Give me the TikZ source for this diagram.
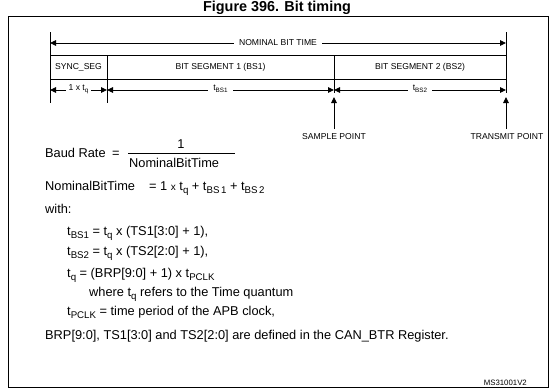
\documentclass[tikz,border=0pt]{standalone}
\usepackage{fontspec}
\setmainfont{Liberation Sans}
\usetikzlibrary{arrows.meta}
\newcommand{\lsb}[1]{\raisebox{-0.45ex}{\fontsize{6.3}{7}\selectfont #1}}
\newcommand{\msb}[1]{\raisebox{-0.45ex}{\fontsize{9.7}{10}\selectfont #1}}
\begin{document}
\begin{tikzpicture}[x=1pt,y=-1pt,
  thin line/.style={line width=0.9pt},
  dim/.style={line width=0.9pt,{Triangle[length=6pt,width=5.5pt]}-{Triangle[length=6pt,width=5.5pt]}},
  uparrow/.style={line width=0.9pt,-{Triangle[length=6pt,width=5.5pt]}},
  small/.style={font=\fontsize{8.6}{9}\selectfont, inner sep=0pt},
  gap/.style={small, fill=white, inner xsep=5pt, inner ysep=2pt},
  txt/.style={font=\fontsize{12.8}{14}\selectfont, inner sep=0pt, anchor=base west}]
\useasboundingbox (0,0) rectangle (555,391);
\node[font=\bfseries\fontsize{14.4}{16}\selectfont, inner sep=0pt] (title) at (277,8) {Figure 396. Bit timing};
\node[draw, line width=0.9pt, minimum width=540pt, minimum height=371pt, anchor=north west, inner sep=0pt] (frame) at (8,16) {};
% coordinates
\coordinate (lt) at (50,32);  \coordinate (lb) at (50,103);
\coordinate (rt) at (506,32); \coordinate (rb) at (506,93);
\coordinate (nl) at (50,43);  \coordinate (nr) at (506,43);
\coordinate (h1l) at (50,55); \coordinate (h1r) at (506,55);
\coordinate (h2l) at (50,79); \coordinate (h2r) at (506,79);
\coordinate (s1t) at (107,55); \coordinate (s1b) at (107,103);
\coordinate (s2t) at (334,55); \coordinate (s2b) at (334,93);
\coordinate (a0) at (50,90); \coordinate (a1) at (107,90); \coordinate (a2) at (334,90); \coordinate (a3) at (506,90);
\coordinate (spb) at (334,129); \coordinate (spt) at (334,97);
\coordinate (tpb) at (506,129); \coordinate (tpt) at (506,97);
% lines
\draw[thin line] (lt) -- (lb);
\draw[thin line] (rt) -- (rb);
\draw[thin line] (h1l) -- (h1r);
\draw[thin line] (h2l) -- (h2r);
\draw[thin line] (s1t) -- (s1b);
\draw[thin line] (s2t) -- (s2b);
\draw[dim] (nl) -- (nr) node[gap, midway] (nbt) {NOMINAL BIT TIME};
\node[small] (sync) at (78.5,67) {SYNC\_SEG};
\node[small] (bs1) at (220.5,67) {BIT SEGMENT 1 (BS1)};
\node[small] (bs2) at (420,67) {BIT SEGMENT 2 (BS2)};
\draw[dim] (a0) -- (a1) node[gap, midway, inner xsep=3pt, yshift=1pt] (tq) {1 x t\lsb{q}};
\draw[dim] (a1) -- (a2) node[gap, midway, yshift=1pt] (tbs1) {t\lsb{BS1}};
\draw[dim] (a2) -- (a3) node[gap, midway, yshift=1pt] (tbs2) {t\lsb{BS2}};
\draw[uparrow] (spb) -- (spt);
\draw[uparrow] (tpb) -- (tpt);
\node[small] (sp) at (334,137) {SAMPLE POINT};
\node[small] (tp) at (507,137) {TRANSMIT POINT};
% formulas
\node[txt] (br) at (45,157) {Baud Rate};
\node[txt] (breq) at (112,157) {=};
\coordinate (barl) at (128,153); \coordinate (barr) at (235,153);
\draw[line width=0.7pt] (barl) -- (barr);
\node[txt, anchor=base] (one) at (181,148) {1};
\node[txt] (den) at (129,167) {NominalBitTime};
\node[txt] (nbt2) at (45,190) {NominalBitTime};
\node[txt] (nbteq) at (149,190) {= 1 {\fontsize{10}{12}\selectfont x} t\msb{q} + t\msb{BS\,1} + t\msb{BS\,2}};
\node[txt] (with) at (45,213) {with:};
\node[txt] (l1) at (67,235) {t\msb{BS1} = t\msb{q} x (TS1[3:0] + 1),};
\node[txt] (l2) at (67,255) {t\msb{BS2} = t\msb{q} x (TS2[2:0] + 1),};
\node[txt] (l3) at (67,277) {t\msb{q} = (BRP[9:0] + 1) x t\msb{PCLK}};
\node[txt] (l4) at (89,296) {where t\msb{q} refers to the Time quantum};
\node[txt] (l5) at (67,315) {t\msb{PCLK} = time period of the APB clock,};
\node[txt] (l6) at (45,339) {BRP[9:0], TS1[3:0] and TS2[2:0] are defined in the CAN\_BTR Register.};
\node[small, font=\fontsize{7.8}{8}\selectfont, anchor=base east] (ms) at (527,385) {MS31001V2};
\end{tikzpicture}
\end{document}
